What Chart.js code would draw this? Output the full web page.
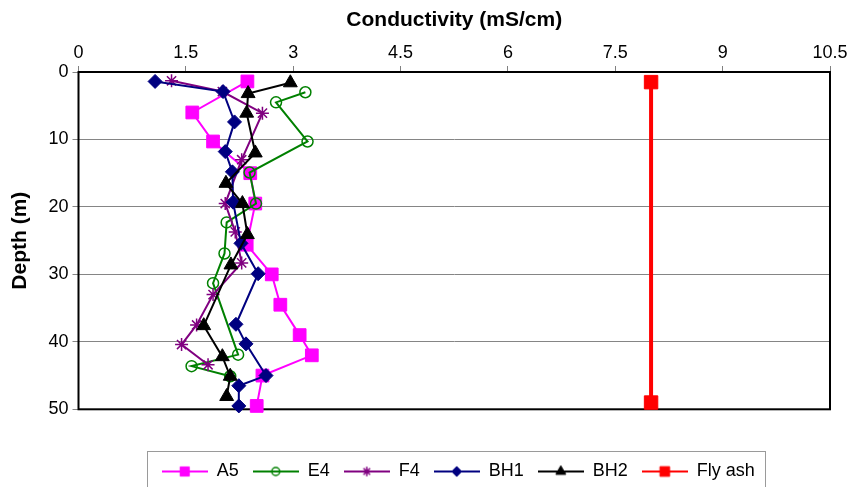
<!DOCTYPE html>
<html>
<head>
<meta charset="utf-8">
<title>Conductivity profiles</title>
<script src="https://cdn.jsdelivr.net/npm/chart.js@4/dist/chart.umd.min.js"></script>
<style>
  html, body { margin: 0; padding: 0; background: #ffffff; }
  #wrap { width: 847px; height: 487px; }
</style>
</head>
<body>
<div id="wrap"><canvas id="c" width="847" height="487"></canvas></div>
<script>
// ---- Data: depth (m) and conductivity (mS/cm) for each borehole ----
const seriesNames = ['A5', 'E4', 'F4', 'BH1', 'BH2', 'Fly ash'];

const depthA5 = [1.4, 6.0, 10.3, 15.0, 19.5, 25.6, 30.0, 34.5, 39.0, 42.0, 45.0, 49.5];
const condA5  = [2.36, 1.59, 1.88, 2.40, 2.47, 2.35, 2.70, 2.82, 3.09, 3.26, 2.57, 2.49];

const depthE4 = [3.0, 4.5, 10.3, 14.9, 19.5, 22.3, 26.9, 31.3, 41.9, 43.6, 45.1];
const condE4  = [3.17, 2.76, 3.20, 2.39, 2.48, 2.07, 2.04, 1.88, 2.23, 1.58, 2.12];

const depthF4 = [1.3, 2.9, 6.1, 13.0, 19.5, 23.7, 28.3, 33.0, 37.5, 40.4, 43.4];
const condF4  = [1.30, 2.01, 2.57, 2.28, 2.05, 2.19, 2.28, 1.88, 1.65, 1.44, 1.81];

const depthBH1 = [1.4, 2.9, 7.4, 11.8, 14.8, 19.3, 25.4, 29.9, 37.4, 40.3, 45.0, 46.5, 49.5];
const condBH1  = [1.07, 2.02, 2.18, 2.05, 2.15, 2.16, 2.27, 2.51, 2.20, 2.34, 2.62, 2.24, 2.24];

const depthBH2 = [1.6, 3.2, 6.1, 12.0, 16.5, 19.5, 24.1, 28.6, 37.6, 42.2, 45.1, 48.1];
const condBH2  = [2.96, 2.37, 2.35, 2.47, 2.06, 2.29, 2.36, 2.13, 1.75, 2.01, 2.12, 2.07];

const depthFlyAsh = [1.5, 49.0];
const condFlyAsh  = [8.0, 8.0];

const xTickStep = 1.5, xMax = 10.5;
const yTickStep = 10, yMax = 50;

// ---- Presentation ----
const FONT = "'Liberation Sans', Arial, Helvetica, sans-serif";
Chart.defaults.font.family = FONT;
Chart.defaults.color = '#000000';

function toPoints(depths, values) {
  return depths.map((d, i) => ({ x: values[i], y: d }));
}

const seriesData = [
  toPoints(depthA5, condA5),
  toPoints(depthE4, condE4),
  toPoints(depthF4, condF4),
  toPoints(depthBH1, condBH1),
  toPoints(depthBH2, condBH2),
  toPoints(depthFlyAsh, condFlyAsh)
];

const looks = [
  { color: '#FF00FF', fill: '#FF00FF', style: 'rect',     radius: 9,   pbw: 1,   lw: 2 },
  { color: '#008000', fill: 'rgba(0,0,0,0)', style: 'circle', radius: 5.5, pbw: 1.5, lw: 2 },
  { color: '#800080', fill: '#800080', style: 'star',     radius: 6.5, pbw: 1.5, lw: 2 },
  { color: '#000080', fill: '#000080', style: 'rectRot',  radius: 7,   pbw: 1,   lw: 2 },
  { color: '#000000', fill: '#000000', style: 'triangle', radius: 8,   pbw: 1,   lw: 2 },
  { color: '#FF0000', fill: '#FF0000', style: 'rect',     radius: 9.5, pbw: 1,   lw: 4 }
];

const datasets = seriesNames.map((name, i) => ({
  label: name,
  data: seriesData[i],
  showLine: true,
  tension: 0,
  borderColor: looks[i].color,
  backgroundColor: looks[i].color,
  borderWidth: looks[i].lw,
  pointStyle: looks[i].style,
  pointRadius: looks[i].radius,
  pointHoverRadius: looks[i].radius,
  pointBackgroundColor: looks[i].fill,
  pointBorderColor: looks[i].color,
  pointBorderWidth: looks[i].pbw,
  clip: false,
  order: seriesNames.length - i
}));

// Legend glyph: a short line with the series marker in the middle
function legendGlyph(ds) {
  const w = 46, h = 18;
  const cv = document.createElement('canvas');
  cv.width = w; cv.height = h;
  const g = cv.getContext('2d');
  g.strokeStyle = ds.borderColor;
  g.lineWidth = 2;
  g.beginPath(); g.moveTo(0, h / 2); g.lineTo(w, h / 2); g.stroke();
  g.fillStyle = ds.pointBackgroundColor;
  g.strokeStyle = ds.pointBorderColor;
  g.lineWidth = ds.pointBorderWidth;
  const r = ds.pointRadius * 0.72;
  if (Chart.helpers && Chart.helpers.drawPoint) {
    Chart.helpers.drawPoint(g, { pointStyle: ds.pointStyle, radius: r, borderWidth: ds.pointBorderWidth, rotation: 0 }, w / 2, h / 2);
  } else {
    g.beginPath(); g.arc(w / 2, h / 2, r * 0.7, 0, Math.PI * 2); g.fill(); g.stroke();
  }
  return cv;
}

// Plot frame and legend box
const framePlugin = {
  id: 'frame',
  afterLayout(chart) {
    const lg = chart.legend;
    if (lg) { lg.left += 4; lg.right += 4; }
  },
  beforeDatasetsDraw(chart) {
    const a = chart.chartArea, ctx = chart.ctx;
    ctx.save();
    ctx.strokeStyle = '#000000';
    ctx.lineWidth = 2;
    ctx.strokeRect(a.left, a.top, a.right - a.left, a.bottom - a.top);
    ctx.restore();
  },
  afterDraw(chart) {
    const lg = chart.legend;
    if (!lg || !lg.legendHitBoxes || !lg.legendHitBoxes.length) return;
    const hb = lg.legendHitBoxes;
    const first = hb[0], last = hb[hb.length - 1];
    const left = Math.round(first.left - 15) + 0.5;
    const right = Math.round(last.left + last.width + 10) + 0.5;
    const ctx = chart.ctx;
    ctx.save();
    ctx.strokeStyle = '#9a9a9a';
    ctx.lineWidth = 1;
    ctx.strokeRect(left, 451.5, right - left, 45);
    ctx.restore();
  }
};

new Chart(document.getElementById('c'), {
  type: 'scatter',
  data: { datasets },
  plugins: [framePlugin],
  options: {
    responsive: false,
    animation: false,
    devicePixelRatio: 1,
    events: [],
    layout: { padding: { left: 0, right: 17, top: 0, bottom: 0 } },
    plugins: {
      tooltip: { enabled: false },
      legend: {
        display: true,
        position: 'bottom',
        fullSize: false,
        maxHeight: 38.5,
        labels: {
          usePointStyle: true,
          pointStyleWidth: 46,
          boxHeight: 18,
          padding: 14,
          color: '#000000',
          font: { size: 18, family: FONT },
          sort: (a, b) => a.datasetIndex - b.datasetIndex,
          generateLabels(chart) {
            const base = Chart.defaults.plugins.legend.labels.generateLabels(chart);
            return base.map(item => {
              item.pointStyle = legendGlyph(chart.data.datasets[item.datasetIndex]);
              item.lineWidth = 0;
              return item;
            });
          }
        }
      }
    },
    scales: {
      x: {
        type: 'linear',
        position: 'top',
        min: 0,
        max: xMax,
        ticks: { stepSize: xTickStep, padding: 2, color: '#000000', font: { size: 18 } },
        grid: { drawOnChartArea: false, drawTicks: true, tickLength: 6, color: '#808080' },
        border: { display: false },
        title: {
          display: true,
          text: 'Conductivity (mS/cm)',
          color: '#000000',
          font: { size: 21, weight: 'bold' },
          padding: { top: 8, bottom: 0 }
        },
        afterFit(s) { s.height = 72; s.paddingLeft = 0; s.paddingRight = 0; }
      },
      xBottom: {
        type: 'linear',
        position: 'bottom',
        display: true,
        grid: { display: false },
        ticks: { display: false },
        border: { display: false },
        afterFit(s) { s.height = 39.2; s.paddingLeft = 0; s.paddingRight = 0; }
      },
      y: {
        type: 'linear',
        reverse: true,
        min: 0,
        max: yMax,
        ticks: { stepSize: yTickStep, padding: 4, color: '#000000', font: { size: 18 } },
        grid: { color: '#858585', lineWidth: 1, drawTicks: true, tickLength: 6 },
        border: { display: false },
        title: {
          display: true,
          text: 'Depth (m)',
          color: '#000000',
          font: { size: 21, weight: 'bold' },
          padding: { top: 8, bottom: 0 }
        },
        afterFit(s) { s.width = 78.5; }
      }
    }
  }
});
</script>
</body>
</html>
